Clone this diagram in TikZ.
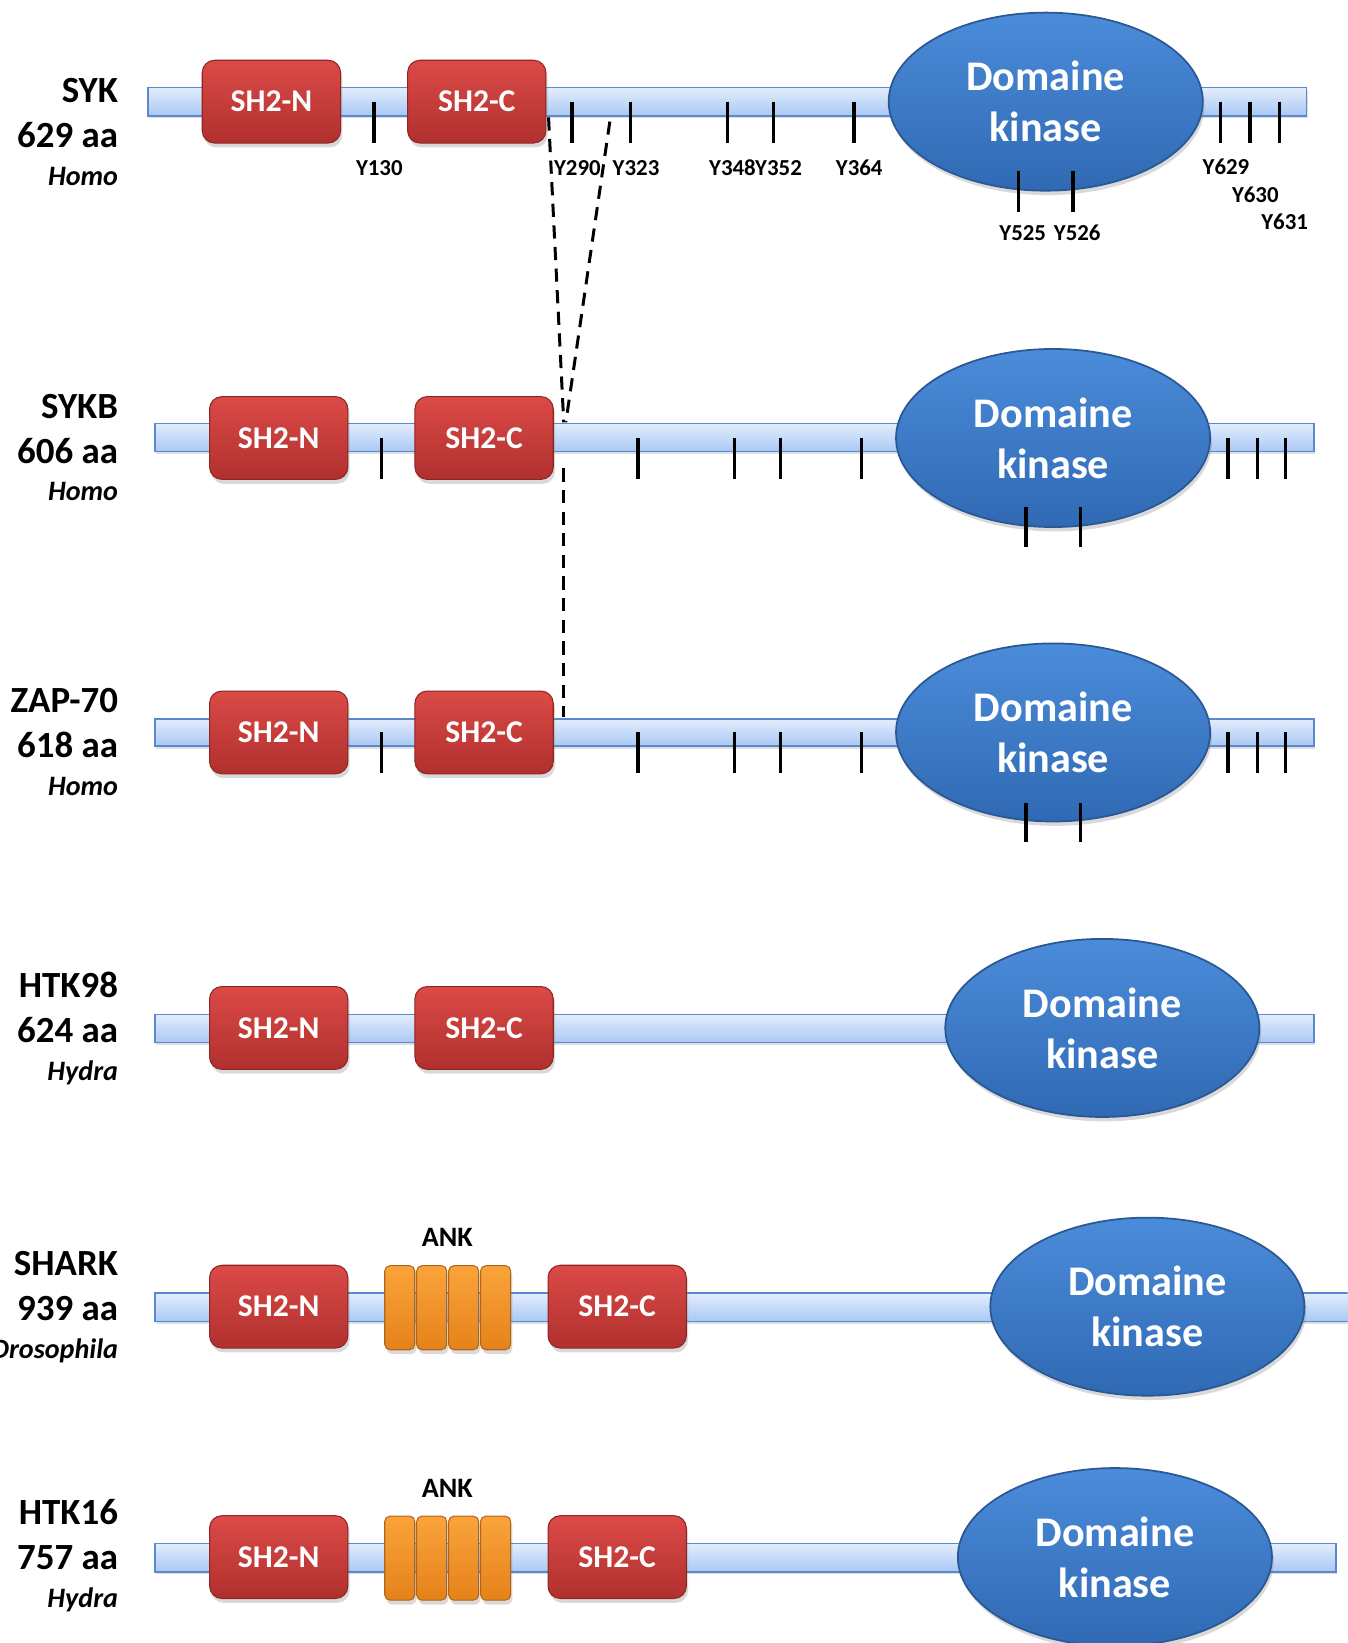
\documentclass[tikz,border=0pt]{standalone}
\usepackage{fontspec}
\setmainfont{Carlito}
\usetikzlibrary{positioning, shapes.geometric, shadows, calc}

\definecolor{bartop}{HTML}{E3EDFC}
\definecolor{barbot}{HTML}{A9C8F4}
\definecolor{barline}{HTML}{5A89CF}
\definecolor{redtop}{HTML}{DB4A47}
\definecolor{redbot}{HTML}{B0302E}
\definecolor{redline}{HTML}{8E2624}
\definecolor{ortop}{HTML}{F9A43A}
\definecolor{orbot}{HTML}{E5821A}
\definecolor{orline}{HTML}{B0661A}
\definecolor{kintop}{HTML}{4B8CDA}
\definecolor{kinbot}{HTML}{3069B3}
\definecolor{kinline}{HTML}{2A5894}

\tikzset{
  chain/.style={draw=barline, line width=0.9pt, top color=bartop, bottom color=barbot,
    drop shadow={opacity=0.25, shadow xshift=0.5pt, shadow yshift=-1.5pt}},
  sh2/.style={rectangle, rounded corners=7pt, minimum width=2.765cm, minimum height=1.655cm,
    draw=redline, line width=0.6pt, top color=redtop, bottom color=redbot, text=white,
    font=\fontsize{18}{20}\selectfont\bfseries,
    drop shadow={opacity=0.3, shadow xshift=1pt, shadow yshift=-2.5pt}},
  ank/.style={rectangle, rounded corners=3pt, minimum width=0.6cm, minimum height=1.68cm,
    draw=orline, line width=0.6pt, top color=ortop, bottom color=orbot, inner sep=0pt,
    drop shadow={opacity=0.3, shadow xshift=1pt, shadow yshift=-2.5pt}},
  kinase/.style={ellipse, minimum width=6.28cm, minimum height=3.56cm, inner sep=0pt,
    draw=kinline, line width=1pt, top color=kintop, bottom color=kinbot, text=white, align=center,
    font=\fontsize{24}{29}\selectfont\bfseries,
    drop shadow={opacity=0.3, shadow xshift=1pt, shadow yshift=-2.5pt}},
  tyr/.style={line width=1.9pt},
  tyrlab/.style={font=\fontsize{13}{15}\selectfont\bfseries, inner sep=0pt},
  anklab/.style={font=\fontsize{16}{19}\selectfont\bfseries, inner sep=0pt},
  protname/.style={anchor=base east, font=\fontsize{21}{25}\selectfont\bfseries, inner sep=0pt},
  species/.style={anchor=base east, font=\fontsize{16}{19}\selectfont\bfseries\itshape, inner sep=0pt},
  splice/.style={line width=1.7pt, dash pattern=on 7.5pt off 4.8pt},
}

\begin{document}
\begin{tikzpicture}[x=0.020948cm, y=-0.020948cm]
\useasboundingbox (0,0) rectangle (1286,1568);
\clip (0,0) rectangle (1286,1568);

% SYK
\node[protname] (sykName) at (113,98) {SYK};
\node[protname] (sykLen) at (113,141) {629 aa};
\node[species] (sykOrg) at (113,177) {Homo};
\draw[chain] (141,83.5) rectangle (1247,110.5);
\foreach \tx/\lab in {357/Y130,546/Y290,602/Y323,694/Y348,738/Y352,815/Y364}{
  \draw[tyr] (\tx,97) -- (\tx,136);
  \node[tyrlab] (syk\lab) at (\tx+5,160) {\lab};
}
\foreach \tx/\ly/\lab in {1165/159/Y629,1193/186/Y630,1221/212/Y631}{
  \draw[tyr] (\tx,97) -- (\tx,136);
  \node[tyrlab] (syk\lab) at (\tx+5,\ly) {\lab};
}
\node[sh2] (sykN) at (259,97) {SH2-N};
\node[sh2] (sykC) at (455,97) {SH2-C};
\node[kinase] (sykK) at (998,97) {Domaine\\kinase};
\foreach \tx/\lab in {972/Y525,1024/Y526}{
  \draw[tyr] (\tx,163) -- (\tx,202);
  \node[tyrlab] (syk\lab) at (\tx+4,222) {\lab};
}

% SYKB
\node[protname] (sykbName) at (113,399) {SYKB};
\node[protname] (sykbLen) at (113,442) {606 aa};
\node[species] (sykbOrg) at (113,478) {Homo};
\draw[chain] (148,404) rectangle (1254,431);
\foreach \tx in {364,609,701,745,822,1172,1200,1227}
  \draw[tyr] (\tx,418) -- (\tx,457);
\node[sh2] (sykbN) at (266,418) {SH2-N};
\node[sh2] (sykbC) at (462,418) {SH2-C};
\node[kinase] (sykbK) at (1005,418) {Domaine\\kinase};
\foreach \tx in {979,1031}
  \draw[tyr] (\tx,484) -- (\tx,522);

% ZAP-70
\node[protname] (zapName) at (113,680) {ZAP-70};
\node[protname] (zapLen) at (113,723) {618 aa};
\node[species] (zapOrg) at (113,759) {Homo};
\draw[chain] (148,686) rectangle (1254,712);
\foreach \tx in {364,609,701,745,822,1172,1200,1227}
  \draw[tyr] (\tx,699) -- (\tx,738);
\node[sh2] (zapN) at (266,699) {SH2-N};
\node[sh2] (zapC) at (462,699) {SH2-C};
\node[kinase] (zapK) at (1005,699) {Domaine\\kinase};
\foreach \tx in {979,1031}
  \draw[tyr] (\tx,766) -- (\tx,804);

% HTK98
\node[protname] (htkName) at (113,952) {HTK98};
\node[protname] (htkLen) at (113,995) {624 aa};
\node[species] (htkOrg) at (113,1031) {Hydra};
\draw[chain] (148,968) rectangle (1254,995);
\node[sh2] (htkN) at (266,981) {SH2-N};
\node[sh2] (htkC) at (462,981) {SH2-C};
\node[kinase] (htkK) at (1052,981) {Domaine\\kinase};

% SHARK
\node[protname] (sharkName) at (113,1217) {SHARK};
\node[protname] (sharkLen) at (113,1260) {939 aa};
\node[species] (sharkOrg) at (113,1296) {Drosophila};
\draw[chain] (148,1234) rectangle (1300,1261);
\node[sh2] (sharkN) at (266,1247) {SH2-N};
\foreach \i in {1,...,4}
  \node[ank] (sharkA\i) at (351+30.5*\i,1248) {};
\node[anklab, above=0.36cm of sharkA2.north east] (sharkAnk) {ANK};
\node[sh2] (sharkC) at (589,1247) {SH2-C};
\node[kinase] (sharkK) at (1095,1247) {Domaine\\kinase};

% HTK16
\node[protname] (htkbName) at (113,1455) {HTK16};
\node[protname] (htkbLen) at (113,1498) {757 aa};
\node[species] (htkbOrg) at (113,1534) {Hydra};
\draw[chain] (148,1473) rectangle (1275,1500);
\node[sh2] (htkbN) at (266,1486) {SH2-N};
\foreach \i in {1,...,4}
  \node[ank] (htkbA\i) at (351+30.5*\i,1487) {};
\node[anklab, above=0.36cm of htkbA2.north east] (htkbAnk) {ANK};
\node[sh2] (htkbC) at (589,1486) {SH2-C};
\node[kinase] (htkbK) at (1064,1486) {Domaine\\kinase};

% deleted stretch (SYK -> SYKB -> ZAP-70)
\coordinate (cutL) at ($(sykC.east)+(2,15)$);
\coordinate (cutR) at (582,116);
\coordinate (sykbJoin) at (538,403);
\coordinate (sykbDrop) at (538,447);
\coordinate (zapJoin) at (538,684);
\draw[splice] (cutL) -- (sykbJoin);
\draw[splice] (cutR) -- ($(sykbJoin)+(2,0)$);
\draw[splice] (sykbDrop) -- (zapJoin);

\end{tikzpicture}
\end{document}
